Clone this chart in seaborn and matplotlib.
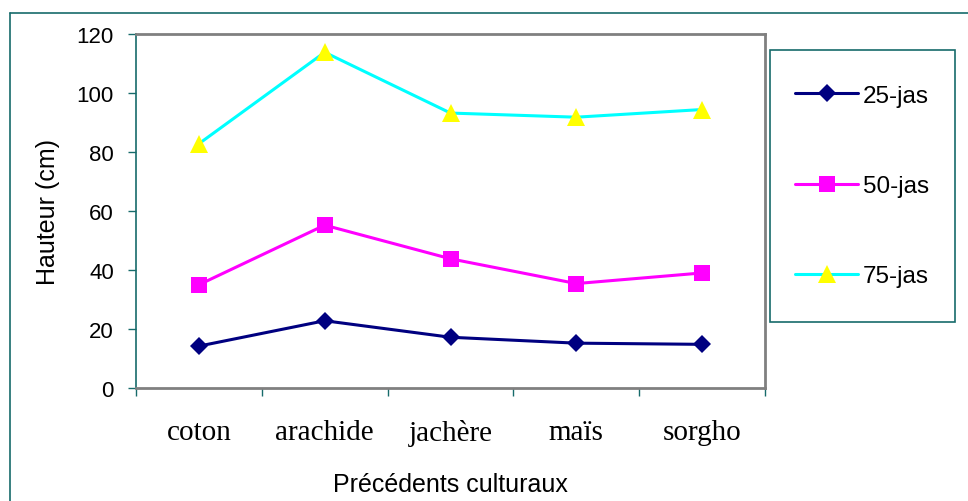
import numpy as np
import pandas as pd
import seaborn as sns
import matplotlib.pyplot as plt
from matplotlib.lines import Line2D
from matplotlib.patches import Rectangle

# data
precedents = ["coton", "arachide", "jachère", "maïs", "sorgho"]
series = ["25-jas", "50-jas", "75-jas"]
h_25 = [14.2, 22.8, 17.2, 15.2, 14.8]
h_50 = [35.0, 55.2, 43.8, 35.4, 39.0]
h_75 = [82.8, 113.8, 93.2, 91.8, 94.4]
y_ticks = [0, 20, 40, 60, 80, 100, 120]

df = pd.DataFrame({
    "pos": list(range(len(precedents))) * len(series),
    "hauteur": h_25 + h_50 + h_75,
    "serie": np.repeat(series, len(precedents)),
})

# styles per series
line_colors = {"25-jas": "#000080", "50-jas": "#ff00ff", "75-jas": "#00ffff"}
face_colors = {"25-jas": "#000080", "50-jas": "#ff00ff", "75-jas": "#ffff00"}
markers = {"25-jas": "D", "50-jas": "s", "75-jas": "^"}
msizes = {"25-jas": 9.5, "50-jas": 12, "75-jas": 13.5}

teal = "#176b6b"
grey = "#808080"

sns.set_style("white")
plt.rcParams["font.family"] = ["Liberation Sans", "DejaVu Sans"]
plt.rcParams["text.color"] = "black"
plt.rcParams["axes.labelcolor"] = "black"
plt.rcParams["xtick.color"] = "black"
plt.rcParams["ytick.color"] = "black"

W, H = 968, 502
fig = plt.figure(figsize=(W / 100, H / 100), dpi=100)
ax = fig.add_axes([136 / W, 1 - 389 / H, (765 - 136) / W, (389 - 35) / H])

for s in series:
    sns.lineplot(data=df[df["serie"] == s], x="pos", y="hauteur", ax=ax,
                 color=line_colors[s], linewidth=2.2, marker=markers[s],
                 markersize=msizes[s], markerfacecolor=face_colors[s],
                 markeredgecolor=face_colors[s], markeredgewidth=0,
                 label=s, sort=False, legend=False)

ax.set_xlim(-0.5, len(precedents) - 0.5)
ax.set_ylim(0, 120)
ax.set_yticks(y_ticks)
ax.set_yticklabels([str(t) for t in y_ticks], fontsize=16)

# ticks at category boundaries, labels at centers
ax.set_xticks(np.arange(len(precedents) + 1) - 0.5)
ax.set_xticklabels([])
ax.set_xticks(np.arange(len(precedents)), minor=True)
ax.set_xticklabels(precedents, minor=True, fontsize=21,
                   family=["Liberation Serif", "DejaVu Serif"])
ax.tick_params(axis="x", which="minor", length=0, pad=22)
ax.tick_params(axis="x", which="major", length=6, width=1, color=teal, direction="out")
ax.tick_params(axis="y", length=6, width=1, color=teal, direction="out", pad=10)
ax.tick_params(bottom=True, left=True)

ax.set_xlabel("Précédents culturaux", fontsize=18, labelpad=19)
ax.set_ylabel("Hauteur (cm)", fontsize=18, labelpad=12)

for side in ["top", "right", "bottom"]:
    ax.spines[side].set_color(grey)
    ax.spines[side].set_linewidth(2)
ax.spines["left"].set_color(teal)
ax.spines["left"].set_linewidth(1.2)

# outer chart frame
fig.add_artist(Line2D([10 / W, 1], [1 - 14 / H, 1 - 14 / H], color=teal, lw=1.2,
                      transform=fig.transFigure))
fig.add_artist(Line2D([10 / W, 10 / W], [0, 1 - 14 / H], color=teal, lw=1.2,
                      transform=fig.transFigure))

# legend box
fig.add_artist(Rectangle((770 / W, 1 - 323 / H), (955 - 770) / W, (323 - 51) / H,
                         transform=fig.transFigure, fill=False, edgecolor=teal, lw=1.2))
handles, labels = ax.get_legend_handles_labels()
fig.legend(handles, labels, loc="center", bbox_to_anchor=(862 / W, 1 - 187 / H),
           frameon=False, fontsize=17.5, labelspacing=2.8, handlelength=2.6,
           handletextpad=0.2)

fig.savefig("out.png", dpi=100, facecolor="white")
